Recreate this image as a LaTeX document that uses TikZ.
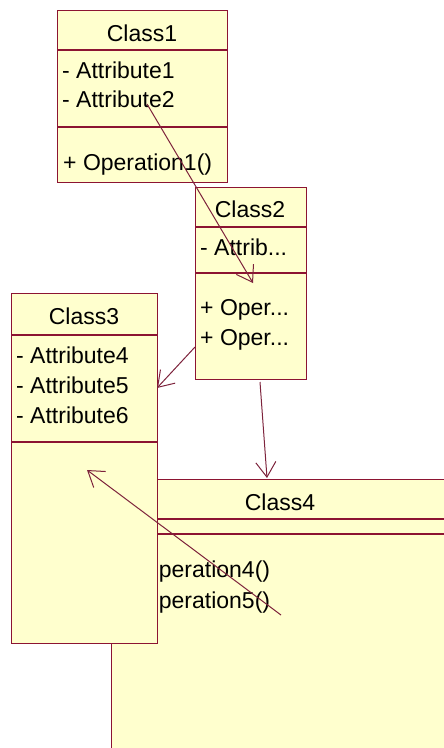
\documentclass[tikz,border=0pt]{standalone}
\usepackage{fontspec}
\setmainfont{Liberation Sans}
\usepackage{tikz}
\usetikzlibrary{arrows.meta, calc}
\definecolor{umlline}{RGB}{140,20,50}
\definecolor{umlarrow}{RGB}{125,35,60}
\definecolor{umlfill}{RGB}{255,255,206}
\tikzstyle{classbox} = [draw=umlline, fill=umlfill, line width=1.3pt, inner sep=0pt, anchor=north west]
\tikzstyle{sep} = [draw=umlline, line width=1.3pt]
\tikzstyle{title} = [font=\fontsize{23}{28}\selectfont, inner sep=0pt, anchor=base]
\tikzstyle{member} = [font=\fontsize{23}{28}\selectfont, inner sep=0pt, anchor=base west]
\tikzstyle{assoc} = [line width=1pt, draw=umlarrow, -{Straight Barb[length=15pt, width=20pt, line width=1pt]}]

\begin{document}
\begin{tikzpicture}[x=1pt, y=-1pt]
    % Page frame (origin top left)
    \clip (0,0) rectangle (444,748);

    % Class4 (behind Class3, runs off the page)
    \node[classbox, minimum width=340pt, minimum height=300pt] (class4) at (111,479) {};
    \draw[sep] (class4.west |- 0,519) -- (class4.east |- 0,519);
    \draw[sep] (class4.west |- 0,534) -- (class4.east |- 0,534);
    \node[title] (c4name) at (280,510) {Class4};
    \foreach \i/\y in {4/577, 5/608}
        \node[member] (c4op\i) at (121,\y) {+ Operation\i()};

    % Class3
    \node[classbox, minimum width=146pt, minimum height=350pt] (class3) at (11,293) {};
    \draw[sep] (class3.west |- 0,335) -- (class3.east |- 0,335);
    \draw[sep] (class3.west |- 0,442) -- (class3.east |- 0,442);
    \node[title] (c3name) at (84,324) {Class3};
    \foreach \i/\y in {4/363, 5/393, 6/423}
        \node[member] (c3attr\i) at (16,\y) {- Attribute\i};

    % Class1
    \node[classbox, minimum width=170pt, minimum height=172pt] (class1) at (57,10) {};
    \draw[sep] (class1.west |- 0,50) -- (class1.east |- 0,50);
    \draw[sep] (class1.west |- 0,127) -- (class1.east |- 0,127);
    \node[title] (c1name) at (142,41) {Class1};
    \node[member] (c1attr1) at (62,78) {- Attribute1};
    \node[member] (c1attr2) at (62,107) {- Attribute2};
    \node[member] (c1op1) at (63,170) {+ Operation1()};

    % Class2
    \node[classbox, minimum width=111pt, minimum height=192pt] (class2) at (195,187) {};
    \draw[sep] (class2.west |- 0,227) -- (class2.east |- 0,227);
    \draw[sep] (class2.west |- 0,273) -- (class2.east |- 0,273);
    \node[title] (c2name) at (250,217) {Class2};
    \node[member] (c2attr) at (200,255) {- Attrib...};
    \node[member] (c2op1) at (200,315) {+ Oper...};
    \node[member] (c2op2) at (200,345) {+ Oper...};

    % Connector ends
    \coordinate (c1from) at (147,104);
    \coordinate (c2to) at (253,283);
    \coordinate (c2left) at (195,347);
    \coordinate (c3to) at (157,388);
    \coordinate (c2down) at (260,382);
    \coordinate (c4to) at (267,478);
    \coordinate (c4from) at (281,615);
    \coordinate (c3in) at (87,470);

    % Associations
    \draw[assoc] (c1from) -- (c2to);
    \draw[assoc] (c2left) -- (c3to);
    \draw[assoc] (c2down) -- (c4to);
    \draw[assoc] (c4from) -- (c3in);
\end{tikzpicture}
\end{document}
